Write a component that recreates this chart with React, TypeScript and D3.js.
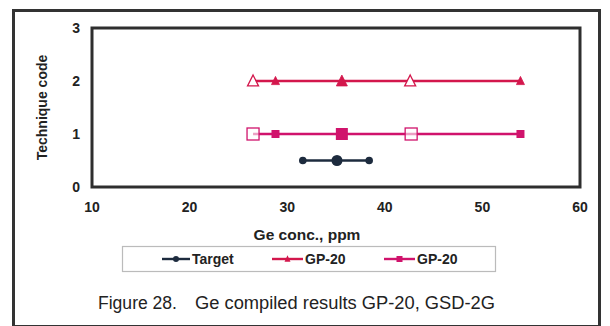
import React from "react";
import * as d3 from "d3";

const xTicks = [10, 20, 30, 40, 50, 60];
const yTicks = [0, 1, 2, 3];

const targetX = [31.6, 35.1, 38.4];
const targetY = [0.5, 0.5, 0.5];
const targetKind = ["small", "big", "small"];

const gpTriX = [26.5, 28.8, 35.6, 42.6, 53.9];
const gpTriY = [2, 2, 2, 2, 2];
const gpTriKind = ["open", "small", "big", "open", "small"];

const gpSqX = [26.5, 28.8, 35.6, 42.7, 53.9];
const gpSqY = [1, 1, 1, 1, 1];
const gpSqKind = ["open", "small", "big", "open", "small"];

const legendLabels = ["Target", "GP-20", "GP-20"];

const C_TARGET = "#1d2b3e";
const C_TRI = "#d3174c";
const C_SQ = "#d0136c";

const FONT = "'Liberation Sans', Arial, sans-serif";

export default function App() {
  const W = 610, H = 326;
  const x = d3.scaleLinear().domain([10, 60]).range([92, 580]);
  const y = d3.scaleLinear().domain([0, 3]).range([187, 28]);
  const line = d3.line<[number, number]>().x((d) => x(d[0])).y((d) => y(d[1]));

  const tri = (cx: number, cy: number, s: number) => {
    const h = s * 0.9;
    return `M${cx},${cy - h / 2 - 1}L${cx + s / 2},${cy + h / 2}L${cx - s / 2},${cy + h / 2}Z`;
  };

  const triMarker = (cx: number, cy: number, kind: string, color: string, k: number) => {
    if (kind === "open")
      return <path key={k} d={tri(cx, cy, 11)} fill="white" stroke={color} strokeWidth={1.3} />;
    const s = kind === "big" ? 11 : 8;
    return <path key={k} d={tri(cx, cy, s)} fill={color} stroke={color} strokeWidth={0.8} />;
  };
  const sqMarker = (cx: number, cy: number, kind: string, color: string, k: number) => {
    if (kind === "open")
      return <rect key={k} x={cx - 6} y={cy - 6} width={12} height={12} fill="white" fillOpacity={0.6} stroke={color} strokeWidth={1.3} />;
    const s = kind === "big" ? 12 : 8;
    return <rect key={k} x={cx - s / 2} y={cy - s / 2} width={s} height={s} fill={color} />;
  };
  const dotMarker = (cx: number, cy: number, kind: string, color: string, k: number) => {
    const r = kind === "big" ? 5.5 : 3.8;
    return <circle key={k} cx={cx} cy={cy} r={r} fill={color} />;
  };

  const triPts = gpTriX.map((v, i) => [v, gpTriY[i]] as [number, number]);
  const sqPts = gpSqX.map((v, i) => [v, gpSqY[i]] as [number, number]);
  const tgPts = targetX.map((v, i) => [v, targetY[i]] as [number, number]);

  const legY = 259;
  const legItems = [
    { x0: 162, x1: 190, tx: 192, color: C_TARGET, kind: "dot" },
    { x0: 272, x1: 303, tx: 305, color: C_TRI, kind: "tri" },
    { x0: 384, x1: 415, tx: 417, color: C_SQ, kind: "sq" },
  ];

  return (
    <svg width={W} height={H} style={{ position: "absolute", left: 0, top: 0, background: "white" }}>
      <rect x={0} y={0} width={W} height={H} fill="white" />
      <rect x={13.5} y={10.5} width={586} height={316} fill="none" stroke="#333" strokeWidth={3} />
      <rect x={x(10)} y={y(3)} width={x(60) - x(10)} height={y(0) - y(3)} fill="none" stroke="#2e2e2e" strokeWidth={3} />

      {yTicks.map((t) => (
        <text key={"y" + t} x={80} y={y(t)} dy="0.35em" textAnchor="end" fontFamily={FONT} fontWeight="bold" fontSize={14} fill="#222">{t}</text>
      ))}
      {xTicks.map((t) => (
        <text key={"x" + t} x={x(t)} y={207} dy="0.35em" textAnchor="middle" fontFamily={FONT} fontWeight="bold" fontSize={14} fill="#222">{t}</text>
      ))}
      <text transform={`translate(42,${(y(0) + y(3)) / 2}) rotate(-90)`} textAnchor="middle" dy="0.35em" fontFamily={FONT} fontWeight="bold" fontSize={14} fill="#222">Technique code</text>
      <text x={307} y={235} dy="0.35em" textAnchor="middle" fontFamily={FONT} fontWeight="bold" fontSize={15.5} fill="#222">Ge conc., ppm</text>

      <path d={line(triPts) || ""} fill="none" stroke={C_TRI} strokeWidth={2.4} />
      {triPts.map((p, i) => triMarker(x(p[0]), y(p[1]), gpTriKind[i], C_TRI, i))}
      <path d={line(sqPts) || ""} fill="none" stroke={C_SQ} strokeWidth={2.4} />
      {sqPts.map((p, i) => sqMarker(x(p[0]), y(p[1]), gpSqKind[i], C_SQ, i))}
      <path d={line(tgPts) || ""} fill="none" stroke={C_TARGET} strokeWidth={2.4} />
      {tgPts.map((p, i) => dotMarker(x(p[0]), y(p[1]), targetKind[i], C_TARGET, i))}

      <rect x={122.5} y={246.5} width={373} height={25} fill="white" stroke="#bbb" strokeWidth={1.2} />
      {legItems.map((it, i) => (
        <g key={"l" + i}>
          <line x1={it.x0} x2={it.x1} y1={legY} y2={legY} stroke={it.color} strokeWidth={2.4} />
          {it.kind === "dot" && <circle cx={(it.x0 + it.x1) / 2} cy={legY} r={3} fill={it.color} />}
          {it.kind === "tri" && <path d={tri((it.x0 + it.x1) / 2, legY, 6)} fill={it.color} />}
          {it.kind === "sq" && <rect x={(it.x0 + it.x1) / 2 - 3} y={legY - 3} width={6} height={6} fill={it.color} />}
          <text x={it.tx} y={legY} dy="0.35em" fontFamily={FONT} fontWeight="bold" fontSize={14} fill="#222">{legendLabels[i]}</text>
        </g>
      ))}

      <text x={98} y={303} dy="0.35em" fontFamily={FONT} fontSize={17.5} fill="#222" textLength={79} lengthAdjust="spacingAndGlyphs">Figure 28.</text>
      <text x={195} y={303} dy="0.35em" fontFamily={FONT} fontSize={17.5} fill="#222" textLength={300} lengthAdjust="spacingAndGlyphs">Ge compiled results GP-20, GSD-2G</text>
    </svg>
  );
}
